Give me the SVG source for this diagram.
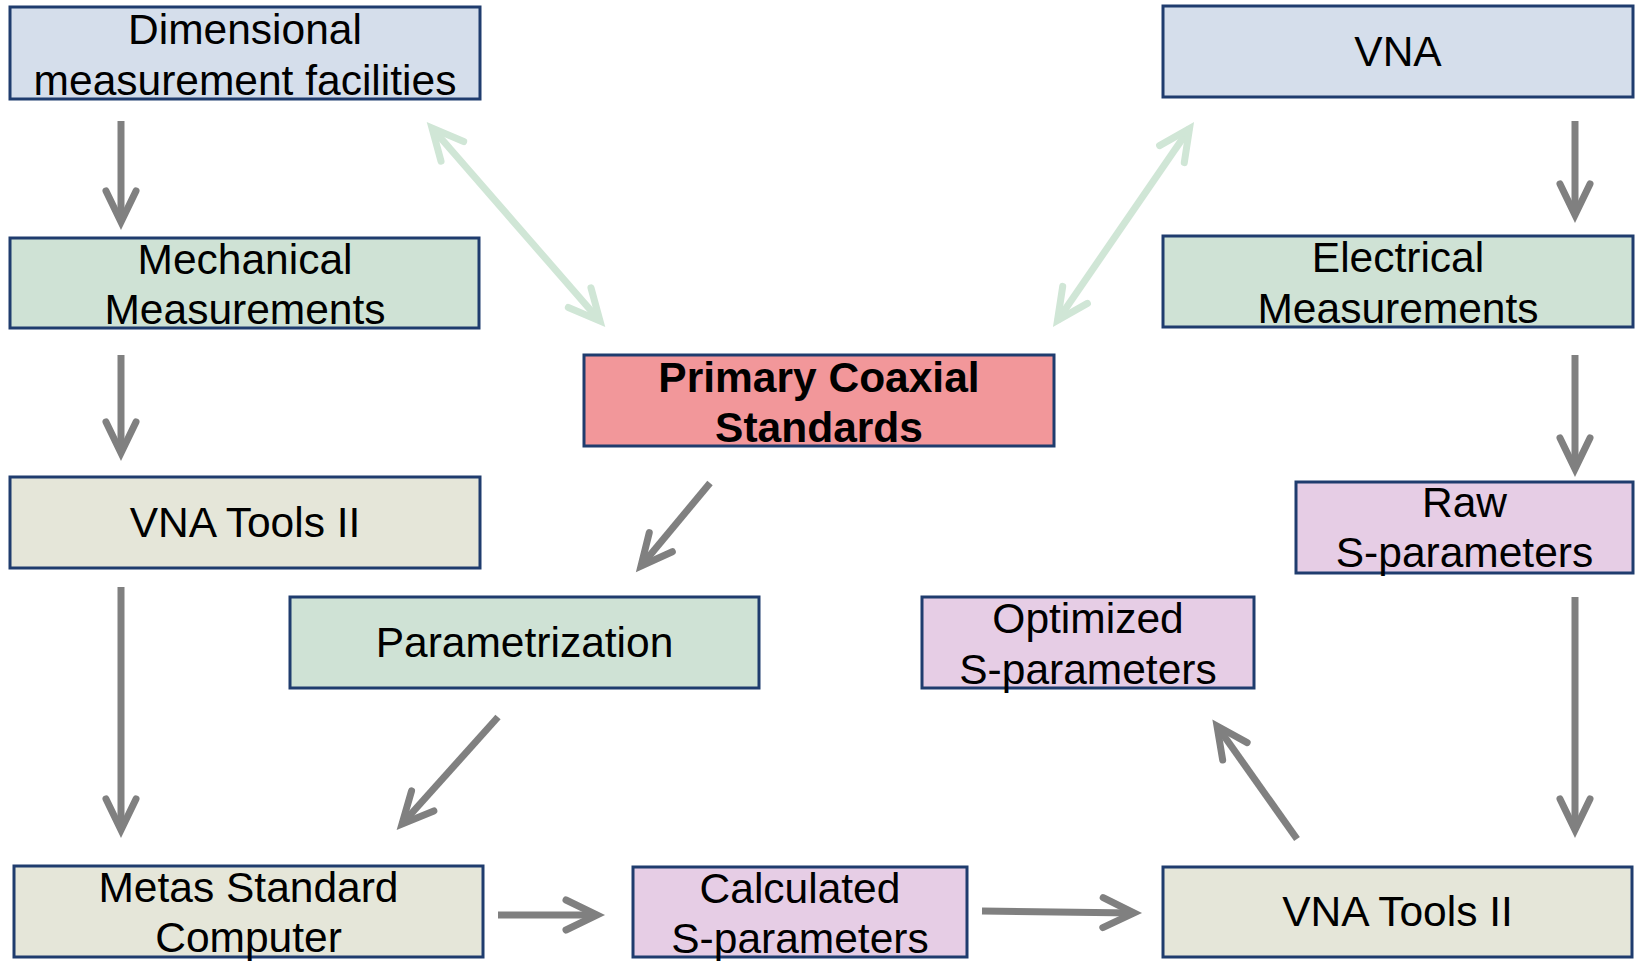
<svg xmlns="http://www.w3.org/2000/svg" width="1639" height="961" viewBox="0 0 1639 961">
<style>
.box{stroke:#1f3c6e;stroke-width:3}
.blue{fill:#d5deeb}
.green{fill:#cfe2d5}
.tan{fill:#e5e6d9}
.pink{fill:#f2979a}
.purple{fill:#e6cde5}
text{font-family:"Liberation Sans",Arial,sans-serif;font-size:42.5px;fill:#000;text-anchor:middle}
.bold{font-weight:bold}
.gray{stroke:#808080;stroke-width:7;fill:none;marker-end:url(#ah)}
.lg{stroke:#d0e6d6;stroke-width:7;fill:none;marker-end:url(#ahg);marker-start:url(#ahg)}
</style>
<defs>
<marker id="ah" markerUnits="userSpaceOnUse" orient="auto" overflow="visible" markerWidth="1" markerHeight="1" refX="0" refY="0">
<path d="M-31,-15 L0,0 L-31,15" fill="none" stroke="#808080" stroke-width="7" stroke-linecap="round" stroke-linejoin="miter" stroke-miterlimit="10"/>
</marker>
<marker id="ahg" markerUnits="userSpaceOnUse" orient="auto-start-reverse" overflow="visible" markerWidth="1" markerHeight="1" refX="0" refY="0">
<path d="M-31,-15 L0,0 L-31,15" fill="none" stroke="#d0e6d6" stroke-width="7" stroke-linecap="round" stroke-linejoin="miter" stroke-miterlimit="10"/>
</marker>
</defs>
<g id="connectors">
<line class="gray" x1="121" y1="121" x2="121" y2="222"/>
<line class="gray" x1="121" y1="355" x2="121" y2="453"/>
<line class="gray" x1="121" y1="587" x2="121" y2="830"/>
<line class="gray" x1="710" y1="483" x2="641" y2="566"/>
<line class="gray" x1="498" y1="717" x2="402" y2="824"/>
<line class="gray" x1="498" y1="915" x2="597" y2="915"/>
<line class="gray" x1="982" y1="911" x2="1134" y2="913"/>
<line class="gray" x1="1297" y1="839" x2="1217" y2="726"/>
<line class="gray" x1="1575" y1="121" x2="1575" y2="215"/>
<line class="gray" x1="1575" y1="355" x2="1575" y2="469"/>
<line class="gray" x1="1575" y1="597" x2="1575" y2="830"/>
<line class="lg" x1="432" y1="128" x2="600" y2="321"/>
<line class="lg" x1="1189.5" y1="128.6" x2="1057.5" y2="320.4"/>
</g>
<g id="dimensional">
<rect class="box blue" x="10" y="7" width="470" height="92"/>
<text x="245" y="44">Dimensional</text>
<text x="245" y="95">measurement facilities</text>
</g>
<g id="mechanical">
<rect class="box green" x="10" y="238" width="469" height="90"/>
<text x="245" y="274">Mechanical</text>
<text x="245" y="324">Measurements</text>
</g>
<g id="vnatools-left">
<rect class="box tan" x="10" y="477" width="470" height="91"/>
<text x="245" y="537">VNA Tools II</text>
</g>
<g id="primary">
<rect class="box pink" x="584" y="355" width="470" height="91"/>
<text class="bold" x="819" y="392">Primary Coaxial</text>
<text class="bold" x="819" y="442">Standards</text>
</g>
<g id="parametrization">
<rect class="box green" x="290" y="597" width="469" height="91"/>
<text x="524.5" y="657">Parametrization</text>
</g>
<g id="metas">
<rect class="box tan" x="14" y="866" width="469" height="91"/>
<text x="248.5" y="902">Metas Standard</text>
<text x="248.5" y="952">Computer</text>
</g>
<g id="calculated">
<rect class="box purple" x="633" y="867" width="334" height="90"/>
<text x="800" y="903">Calculated</text>
<text x="800" y="953">S-parameters</text>
</g>
<g id="vnatools-right">
<rect class="box tan" x="1163" y="867" width="469" height="90"/>
<text x="1397.5" y="926">VNA Tools II</text>
</g>
<g id="vna">
<rect class="box blue" x="1163" y="6" width="470" height="91"/>
<text x="1398" y="66">VNA</text>
</g>
<g id="electrical">
<rect class="box green" x="1163" y="236" width="470" height="91"/>
<text x="1398" y="272">Electrical</text>
<text x="1398" y="323">Measurements</text>
</g>
<g id="raw">
<rect class="box purple" x="1296" y="482" width="337" height="91"/>
<text x="1464.5" y="517">Raw</text>
<text x="1464.5" y="567">S-parameters</text>
</g>
<g id="optimized">
<rect class="box purple" x="922" y="597" width="332" height="91"/>
<text x="1088" y="633">Optimized</text>
<text x="1088" y="684">S-parameters</text>
</g>
</svg>
